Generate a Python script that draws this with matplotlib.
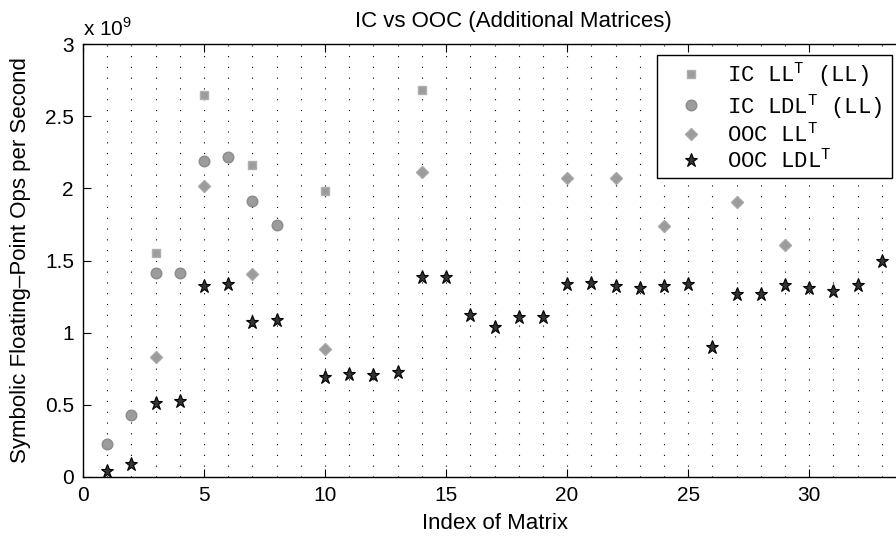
import matplotlib
matplotlib.use("Agg")
import matplotlib.pyplot as plt
from matplotlib.ticker import MultipleLocator

plt.rcParams['font.family'] = ['Liberation Sans', 'DejaVu Sans']
plt.rcParams['mathtext.fontset'] = 'custom'
plt.rcParams['mathtext.rm'] = 'Liberation Mono'
plt.rcParams['mathtext.sf'] = 'Liberation Sans'

# data (values in units of 1e9)
ic_ll_x = [3, 5, 7, 10, 14]
ic_ll_y = [1.55, 2.65, 2.16, 1.98, 2.68]

ic_ldl_x = [1, 2, 3, 4, 5, 6, 7, 8]
ic_ldl_y = [0.23, 0.43, 1.41, 1.41, 2.19, 2.215, 1.915, 1.745]

ooc_ll_x = [3, 5, 7, 10, 14, 20, 22, 24, 27, 29]
ooc_ll_y = [0.83, 2.015, 1.405, 0.89, 2.115, 2.07, 2.07, 1.74, 1.905, 1.605]

ooc_ldl_x = [1, 2, 3, 4, 5, 6, 7, 8, 10, 11, 12, 13, 14, 15, 16, 17, 18, 19,
             20, 21, 22, 23, 24, 25, 26, 27, 28, 29, 30, 31, 32, 33]
ooc_ldl_y = [0.045, 0.09, 0.515, 0.53, 1.32, 1.34, 1.075, 1.085, 0.695, 0.715,
             0.705, 0.73, 1.385, 1.385, 1.12, 1.04, 1.11, 1.11, 1.335, 1.345,
             1.32, 1.31, 1.32, 1.335, 0.9, 1.27, 1.265, 1.33, 1.31, 1.29, 1.33, 1.495]

labels = [r'IC LL$^\mathrm{T}$ (LL)', r'IC LDL$^\mathrm{T}$ (LL) ',
          r'OOC LL$^\mathrm{T}$', r'OOC LDL$^\mathrm{T}$']

fig = plt.figure(figsize=(8.96, 5.36), dpi=100)
ax = fig.add_axes([83/896, 59/536, 823/896, 433/536])

gray = '#9c9c9c'
ax.plot(ic_ll_x, ic_ll_y, 's', color=gray, mec='#b0b0b0', ms=5.8, label=labels[0])
ax.plot(ic_ldl_x, ic_ldl_y, 'o', color=gray, mec='#8c8c8c', ms=7.6, label=labels[1])
ax.plot(ooc_ll_x, ooc_ll_y, 'D', color=gray, mec='#a8a8a8', ms=6.3, label=labels[2])
ax.plot(ooc_ldl_x, ooc_ldl_y, '*', color='#333333', mec='black', mew=0.8, ms=9.8, label=labels[3])

ax.set_xlim(0, 34)
ax.set_ylim(0, 3)
ax.xaxis.set_major_locator(MultipleLocator(5))
ax.xaxis.set_minor_locator(MultipleLocator(1))
ax.set_yticks([0, 0.5, 1, 1.5, 2, 2.5, 3])
ax.set_yticklabels(['0', '0.5', '1', '1.5', '2', '2.5', '3'])
ax.tick_params(which='major', direction='in', length=6, width=0.8, top=True, right=True,
               labelsize=15)
ax.tick_params(axis='x', pad=6.5)
ax.tick_params(axis='y', pad=6.5)
ax.tick_params(which='minor', length=0)
ax.grid(True, axis='x', which='both', color='black', linewidth=0.8,
        linestyle=(0, (1.0, 8.7)))
for s in ax.spines.values():
    s.set_linewidth(1.0)

fig.text(513/896, 1 - 22/536, 'IC vs OOC (Additional Matrices)', fontsize=16,
         ha='center', va='center')
ax.set_xlabel('Index of Matrix', fontsize=16, labelpad=6)
ax.set_ylabel('Symbolic Floating\u2013Point Ops per Second', fontsize=16, labelpad=10)
fig.text(83/896, 1 - 28/536, r'x 10$^{\mathsf{9}}$', fontsize=15, va='center', ha='left')

leg = ax.legend(loc='upper right', bbox_to_anchor=(892/896, 481/536),
                bbox_transform=fig.transFigure, fancybox=False, framealpha=1,
                edgecolor='black', prop={'family': 'Liberation Mono', 'size': 16},
                borderaxespad=0, handlelength=2.57, handletextpad=0.34,
                borderpad=0.25, labelspacing=0.1)
leg.get_frame().set_linewidth(1.0)

fig.savefig('out.png', dpi=100)
